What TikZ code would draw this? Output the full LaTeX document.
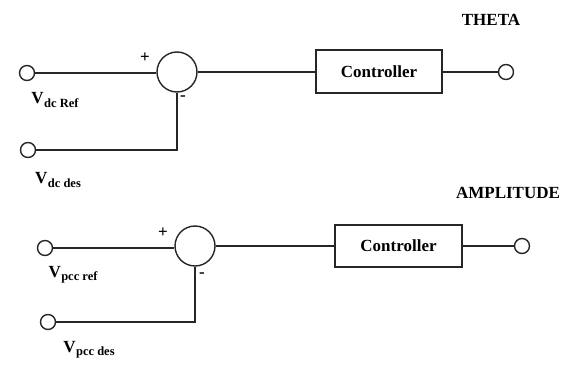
\documentclass[tikz,border=0pt]{standalone}
\usepackage{fontspec}
\setmainfont{Liberation Serif}
\newcommand{\vsub}[1]{V\kern0.5pt\raisebox{-3.5pt}{\fontsize{12.5}{12.5}\selectfont #1}}
\begin{document}
\begin{tikzpicture}[x=1pt,y=-1pt,
  line width=1.4pt, draw=black!85,
  term/.style={circle,draw,minimum size=15pt,inner sep=0pt},
  sumj/.style={circle,draw,minimum size=40pt,inner sep=0pt},
  ctrl/.style={rectangle,draw,minimum width=126pt,minimum height=43pt,inner sep=0pt,font=\fontsize{17}{17}\selectfont\bfseries},
  lbl/.style={inner sep=0pt,font=\fontsize{17}{17}\selectfont\bfseries},
  sgn/.style={inner sep=0pt,font=\fontsize{17}{17}\selectfont\bfseries}]
\useasboundingbox (0,0) rectangle (567,364);
% top loop
\node[term] (in1) at (27,73) {};
\node[sumj] (sum1) at (177,72) {};
\node[ctrl] (ctrl1) at (379,71.5) {Controller};
\node[term] (out1) at (506,72) {};
\node[term] (in2) at (28,150) {};
\draw (in1) -- (sum1.west |- in1);
\draw (sum1.east) -- (ctrl1.west |- sum1.east);
\draw (ctrl1.east |- out1) -- (out1);
\draw (sum1.south) |- (in2.east);
\node[lbl] (l1) at (55,100) {\vsub{dc Ref}};
\node[lbl] (l2) at (58,180) {\vsub{dc des}};
\node[sgn] (p1) at (145,58) {+};
\node[sgn] (m1) at (183,98) {-};
\node[lbl] (t1) at (491,20) {THETA};
% bottom loop
\node[term] (in3) at (45,248) {};
\node[sumj] (sum2) at (195,246) {};
\node[ctrl,minimum width=127pt,minimum height=42pt] (ctrl2) at (398.5,246) {Controller};
\node[term] (out2) at (522,246) {};
\node[term] (in4) at (48,322) {};
\draw (in3) -- (sum2.west |- in3);
\draw (sum2.east) -- (ctrl2.west |- sum2.east);
\draw (ctrl2.east |- out2) -- (out2);
\draw (sum2.south) |- (in4.east);
\node[lbl] (l3) at (73,275) {\vsub{pcc ref}};
\node[lbl] (l4) at (89,350) {\vsub{pcc des}};
\node[sgn] (p2) at (163,233) {+};
\node[sgn] (m2) at (202,275) {-};
\node[lbl] (t2) at (508,193) {AMPLITUDE};
\end{tikzpicture}
\end{document}
